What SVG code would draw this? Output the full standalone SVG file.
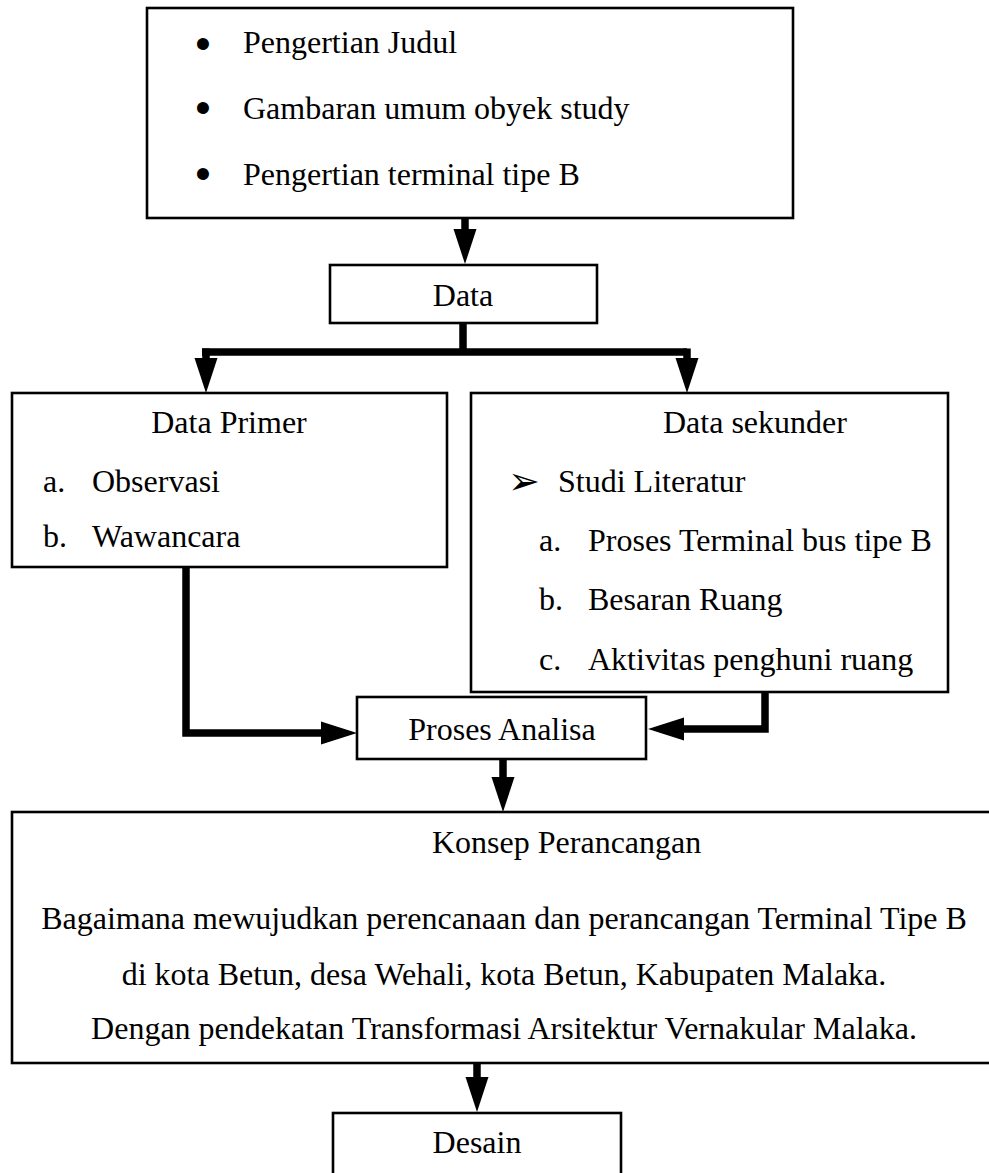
<svg xmlns="http://www.w3.org/2000/svg" width="989" height="1173" viewBox="0 0 989 1173">
<style>
.box{fill:#fff;stroke:#000;stroke-width:2.6}
.t{font-family:"Liberation Serif","Times New Roman",serif;font-size:32px;fill:#000}
.m{text-anchor:middle}
.bul{font-family:"Liberation Sans",Arial,sans-serif;font-size:44px;fill:#000;text-anchor:middle}
.arr{font-family:"DejaVu Sans",sans-serif;font-size:38px;fill:#000}
.ln{fill:none;stroke:#000;stroke-width:7.5;stroke-linejoin:miter;stroke-linecap:butt}
.hd{fill:#000;stroke:none}
</style>
<rect width="989" height="1173" fill="#fff"/>
<g id="connectors">
<path class="ln" d="M465,218 V232"/>
<polygon class="hd" points="453.5,229 476.5,229 465,264"/>
<path class="ln" d="M463,323 V352 M202,352 H687"/>
<path class="ln" d="M206,348.5 V362 M687,348.5 V362"/>
<polygon class="hd" points="194.5,358 217.5,358 206,393"/>
<polygon class="hd" points="675.5,358 698.5,358 687,393"/>
<path class="ln" d="M186,567 V733 H325"/>
<polygon class="hd" points="321,721.5 321,744.5 357,733"/>
<path class="ln" d="M765,692 V729 H680"/>
<polygon class="hd" points="684,717.5 684,740.5 648,729"/>
<path class="ln" d="M503,759 V780"/>
<polygon class="hd" points="491.5,777 514.5,777 503,812"/>
<path class="ln" d="M477,1063 V1080"/>
<polygon class="hd" points="465.5,1077 488.5,1077 477,1112"/>
</g>
<g id="top-box">
<rect class="box" x="147" y="8" width="646" height="210"/>
<text class="bul" x="203" y="59">•</text>
<text class="bul" x="203" y="123">•</text>
<text class="bul" x="203" y="189">•</text>
<text class="t" x="243" y="53">Pengertian Judul</text>
<text class="t" x="243" y="119">Gambaran umum obyek study</text>
<text class="t" x="243" y="185">Pengertian terminal tipe B</text>
</g>
<g id="data">
<rect class="box" x="330" y="265" width="267" height="58"/>
<text class="t m" x="463" y="306">Data</text>
</g>
<g id="data-primer">
<rect class="box" x="12" y="393" width="435" height="174"/>
<text class="t m" x="229" y="433">Data Primer</text>
<text class="t" x="43" y="492">a.</text>
<text class="t" x="92" y="492">Observasi</text>
<text class="t" x="43" y="547">b.</text>
<text class="t" x="92" y="547">Wawancara</text>
</g>
<g id="data-sekunder">
<rect class="box" x="471" y="393" width="477" height="299"/>
<text class="t" x="663" y="433">Data sekunder</text>
<text class="arr" x="508" y="494">➢</text>
<text class="t" x="558" y="492">Studi Literatur</text>
<text class="t" x="539" y="551">a.</text>
<text class="t" x="588" y="551">Proses Terminal bus tipe B</text>
<text class="t" x="539" y="610">b.</text>
<text class="t" x="588" y="610">Besaran Ruang</text>
<text class="t" x="539" y="670">c.</text>
<text class="t" x="588" y="670">Aktivitas penghuni ruang</text>
</g>
<g id="proses-analisa">
<rect class="box" x="357" y="697" width="289" height="62"/>
<text class="t m" x="502" y="740">Proses Analisa</text>
</g>
<g id="konsep">
<rect class="box" x="12" y="812" width="990" height="251"/>
<text class="t" x="432" y="853">Konsep Perancangan</text>
<text class="t m" x="504" y="929">Bagaimana mewujudkan perencanaan dan perancangan Terminal Tipe B</text>
<text class="t m" x="504" y="985">di kota Betun, desa Wehali, kota Betun, Kabupaten Malaka.</text>
<text class="t m" x="504" y="1039">Dengan pendekatan Transformasi Arsitektur Vernakular Malaka.</text>
</g>
<g id="desain">
<rect class="box" x="333" y="1113" width="288" height="80"/>
<text class="t m" x="477" y="1153">Desain</text>
</g>
</svg>
